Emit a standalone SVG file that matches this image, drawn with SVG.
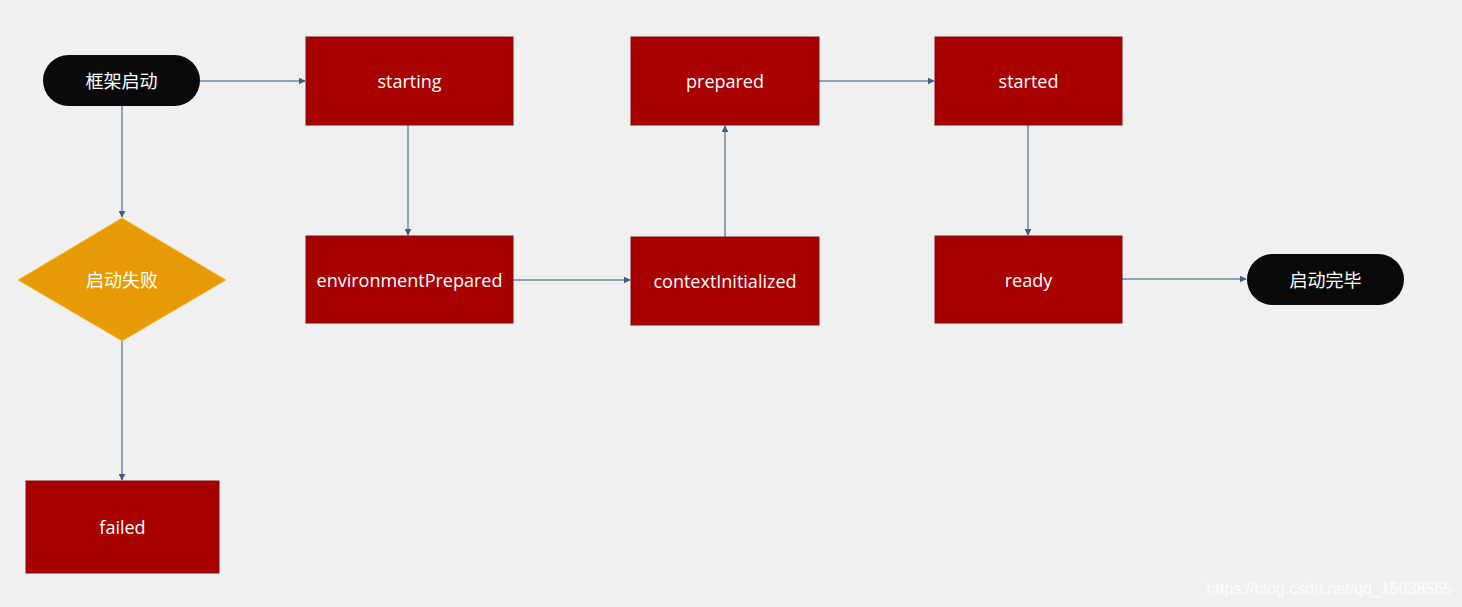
<svg xmlns="http://www.w3.org/2000/svg" width="1462" height="607" viewBox="0 0 1462 607">
<defs>
<marker id="arr" viewBox="0 0 10 10" refX="9" refY="5" markerWidth="7" markerHeight="7" markerUnits="userSpaceOnUse" orient="auto">
<path d="M0,0 L10,5 L0,10 z" fill="#3c5f82"/>
</marker>
<style>
.box{fill:#a80000;stroke:#7a1010;stroke-width:1}
.pill{fill:#0a0a0a}
.dia{fill:#e89a05;stroke:#f2c040;stroke-width:1}
.lbl{fill:#ffffff;font-family:"Open Sans","Noto Sans",sans-serif;font-size:18px;text-anchor:middle;dominant-baseline:central}
.zh{fill:#ffffff;font-family:"Noto Sans","Noto Sans CJK SC",sans-serif;font-size:18px;text-anchor:middle;dominant-baseline:central}
.edge{fill:none;stroke:#6f87a0;stroke-width:1.5;marker-end:url(#arr)}
.wm{fill:#ffffff;font-family:"Liberation Sans",Arial,sans-serif;font-size:16px;text-anchor:end}
</style>
</defs>
<rect width="1462" height="607" fill="#f0f0f0"/>
<g id="connectors">
<path class="edge" d="M200,81 H305"/>
<path class="edge" d="M122,106 V217"/>
<path class="edge" d="M122,341 V480"/>
<path class="edge" d="M408,125 V235"/>
<path class="edge" d="M513,280 H630"/>
<path class="edge" d="M725,237 V126"/>
<path class="edge" d="M819,81 H934"/>
<path class="edge" d="M1028,125 V235"/>
<path class="edge" d="M1122,279 H1246"/>
</g>
<g id="n-start"><rect class="pill" x="43" y="55" width="157" height="51" rx="25.5"/><text class="zh" x="121.5" y="81">框架启动</text></g>
<g id="n-starting"><rect class="box" x="306" y="37" width="207" height="88"/><text class="lbl" x="409.5" y="81">starting</text></g>
<g id="n-prepared"><rect class="box" x="631" y="37" width="188" height="88"/><text class="lbl" x="725" y="81">prepared</text></g>
<g id="n-started"><rect class="box" x="935" y="37" width="187" height="88"/><text class="lbl" x="1028.5" y="81">started</text></g>
<g id="n-env"><rect class="box" x="306" y="236" width="207" height="87"/><text class="lbl" x="409.5" y="280">environmentPrepared</text></g>
<g id="n-ctx"><rect class="box" x="631" y="237" width="188" height="88"/><text class="lbl" x="725" y="281">contextInitialized</text></g>
<g id="n-ready"><rect class="box" x="935" y="236" width="187" height="87"/><text class="lbl" x="1028.5" y="280">ready</text></g>
<g id="n-end"><rect class="pill" x="1247" y="254" width="157" height="51" rx="25.5"/><text class="zh" x="1325.5" y="280">启动完毕</text></g>
<g id="n-fail-decision"><path class="dia" d="M122,218 L226,280 L122,341 L18,280 Z"/><text class="zh" x="122" y="280">启动失败</text></g>
<g id="n-failed"><rect class="box" x="26" y="481" width="193" height="92"/><text class="lbl" x="122.5" y="527">failed</text></g>
<text class="wm" x="1452" y="594" opacity="0.85">https://blog.csdn.net/qq_15038565</text>
</svg>
